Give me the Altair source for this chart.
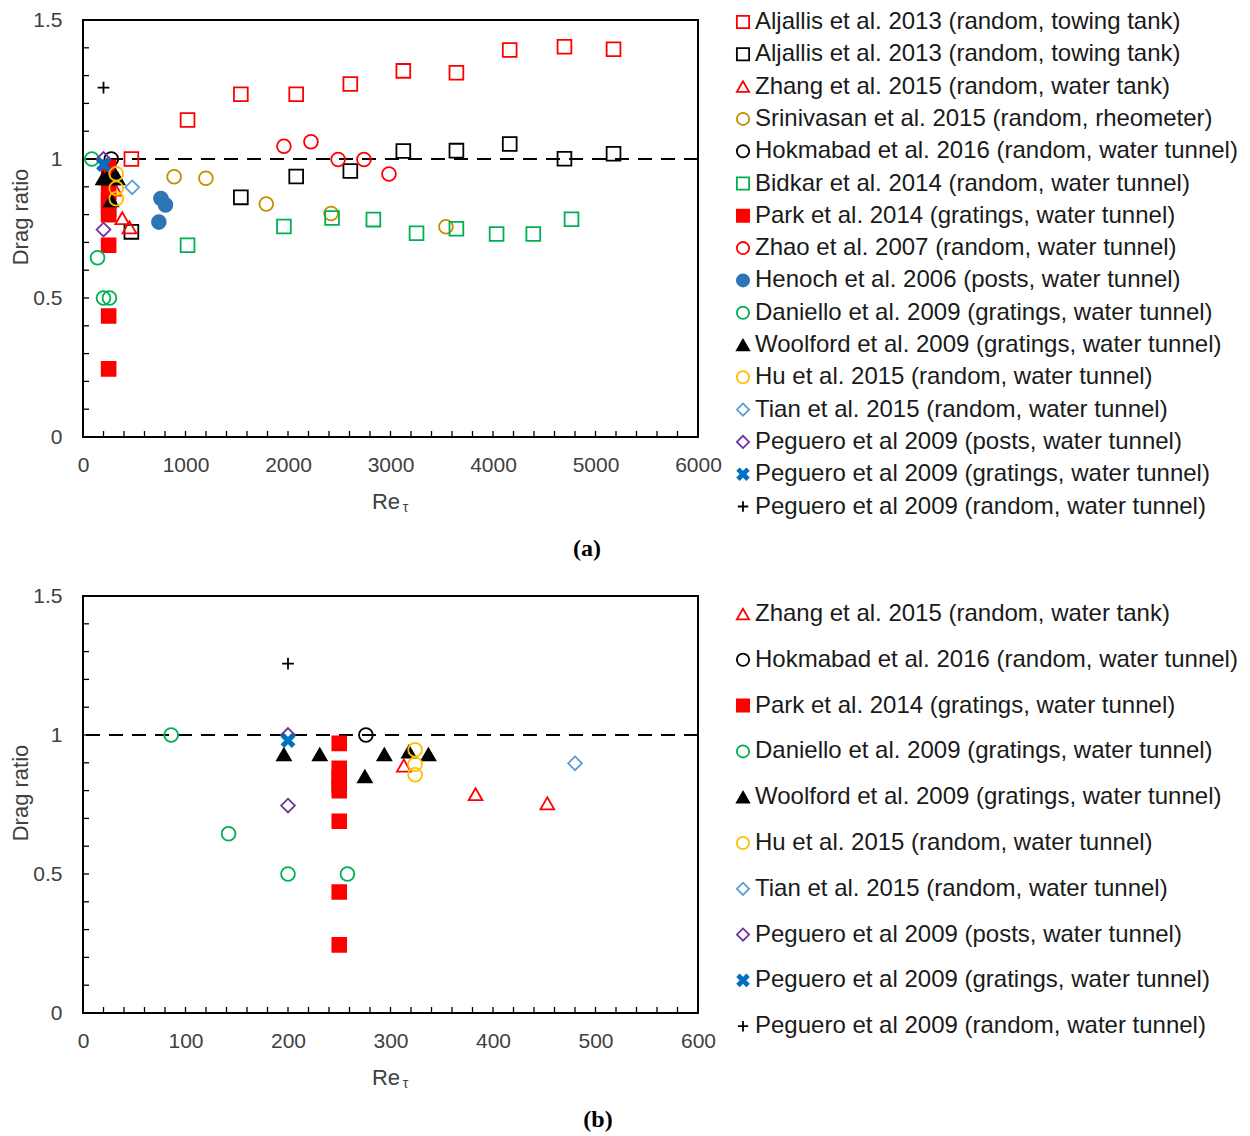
import altair as alt
import pandas as pd

# ---------------- data ----------------
ALJ = "Aljallis et al. 2013 (random, towing tank)"
series_labels = {
    "alj_r": ALJ,
    "alj_k": ALJ + " ",
    "zhang": "Zhang et al. 2015 (random, water tank)",
    "srini": "Srinivasan et al. 2015 (random, rheometer)",
    "hok": "Hokmabad et al. 2016 (random, water tunnel)",
    "bidkar": "Bidkar et al. 2014 (random, water tunnel)",
    "park": "Park et al. 2014 (gratings, water tunnel)",
    "zhao": "Zhao et al. 2007 (random, water tunnel)",
    "henoch": "Henoch et al. 2006 (posts, water tunnel)",
    "daniello": "Daniello et al. 2009 (gratings, water tunnel)",
    "woolford": "Woolford et al. 2009 (gratings, water tunnel)",
    "hu": "Hu et al. 2015 (random, water tunnel)",
    "tian": "Tian et al. 2015 (random, water tunnel)",
    "peg_posts": "Peguero et al 2009 (posts, water tunnel)",
    "peg_grat": "Peguero et al 2009 (gratings, water tunnel)",
    "peg_rand": "Peguero et al 2009 (random, water tunnel)",
}

alj_r_re = [472, 1020, 1540, 2080, 2608, 3125, 3643, 4163, 4697, 5176]
alj_r_dr = [1.0, 1.14, 1.233, 1.233, 1.27, 1.317, 1.31, 1.392, 1.404, 1.395]
alj_k_re = [472, 1540, 2080, 2608, 3125, 3643, 4163, 4697, 5176]
alj_k_dr = [0.738, 0.862, 0.937, 0.957, 1.029, 1.03, 1.054, 1.001, 1.019]
zhang_re = [313, 383, 453]
zhang_dr = [0.89, 0.787, 0.754]
srini_re = [889, 1199, 1788, 2420, 3541]
srini_dr = [0.936, 0.931, 0.838, 0.804, 0.756]
hok_re = [276]
hok_dr = [1.0]
bidkar_re = [1020, 1960, 2430, 2833, 3254, 3643, 4035, 4393, 4766]
bidkar_dr = [0.69, 0.757, 0.788, 0.782, 0.733, 0.749, 0.73, 0.73, 0.783]
park_re = [250, 250, 250, 250, 250, 250, 250, 250]
park_dr = [0.97, 0.88, 0.85, 0.82, 0.80, 0.69, 0.435, 0.245]
zhao_re = [1960, 2224, 2489, 2741, 2985]
zhao_dr = [1.046, 1.062, 0.998, 0.998, 0.946]
henoch_re = [760, 805, 740]
henoch_dr = [0.858, 0.835, 0.773]
daniello_re = [86, 142, 200, 258]
daniello_dr = [1.0, 0.645, 0.50, 0.50]
woolford_re = [196, 231, 275, 294, 318, 337]
woolford_dr = [0.93, 0.93, 0.851, 0.93, 0.94, 0.93]
hu_re = [324, 324, 324]
hu_dr = [0.947, 0.895, 0.857]
tian_re = [480]
tian_dr = [0.898]
peg_posts_re = [200, 200]
peg_posts_dr = [1.0, 0.746]
peg_grat_re = [200]
peg_grat_dr = [0.98]
peg_rand_re = [200]
peg_rand_dr = [1.257]

series_points = {
    "alj_r": (alj_r_re, alj_r_dr), "alj_k": (alj_k_re, alj_k_dr),
    "zhang": (zhang_re, zhang_dr), "srini": (srini_re, srini_dr),
    "hok": (hok_re, hok_dr), "bidkar": (bidkar_re, bidkar_dr),
    "park": (park_re, park_dr), "zhao": (zhao_re, zhao_dr),
    "henoch": (henoch_re, henoch_dr), "daniello": (daniello_re, daniello_dr),
    "woolford": (woolford_re, woolford_dr), "hu": (hu_re, hu_dr),
    "tian": (tian_re, tian_dr), "peg_posts": (peg_posts_re, peg_posts_dr),
    "peg_grat": (peg_grat_re, peg_grat_dr), "peg_rand": (peg_rand_re, peg_rand_dr),
}

keys_a = ["alj_r", "alj_k", "zhang", "srini", "hok", "bidkar", "park", "zhao",
          "henoch", "daniello", "woolford", "hu", "tian", "peg_posts", "peg_grat", "peg_rand"]
keys_b = ["zhang", "hok", "park", "daniello", "woolford", "hu", "tian",
          "peg_posts", "peg_grat", "peg_rand"]

# ---------------- styles ----------------
RED, BLACK, GOLD, GREEN = "#FF0000", "#000000", "#BF9000", "#00B050"
X_PATH = ("M-0.9,-0.55L-0.55,-0.9L0,-0.35L0.55,-0.9L0.9,-0.55L0.35,0L0.9,0.55"
          "L0.55,0.9L0,0.35L-0.55,0.9L-0.9,0.55L-0.35,0Z")
PLUS_PATH = "M-0.85,0L0.85,0M0,-0.85L0,0.85"
style = {  # stroke, fill, shape
    "alj_r": (RED, "transparent", "square"),
    "alj_k": (BLACK, "transparent", "square"),
    "zhang": (RED, "transparent", "triangle-up"),
    "srini": (GOLD, "transparent", "circle"),
    "hok": (BLACK, "transparent", "circle"),
    "bidkar": (GREEN, "transparent", "square"),
    "park": (RED, RED, "square"),
    "zhao": (RED, "transparent", "circle"),
    "henoch": ("#2E75B6", "#2E75B6", "circle"),
    "daniello": (GREEN, "transparent", "circle"),
    "woolford": (BLACK, BLACK, "triangle-up"),
    "hu": ("#FFC000", "transparent", "circle"),
    "tian": ("#5B9BD5", "transparent", "diamond"),
    "peg_posts": ("#7030A0", "transparent", "diamond"),
    "peg_grat": ("#0070C0", "#0070C0", X_PATH),
    "peg_rand": (BLACK, "transparent", PLUS_PATH),
}

FONT = "Liberation Sans"
W, H = 615, 417


def panel(keys, xmax, xvalues, xminor, legend_y, row_pad, caption, cap_x, cap_y):
    rows = []
    for k in keys:
        re_, dr_ = series_points[k]
        for r, d in zip(re_, dr_):
            rows.append({"Re": r, "DR": d, "series": series_labels[k]})
    df = pd.DataFrame(rows)
    dom = [series_labels[k] for k in keys]

    xenc = alt.X("Re:Q", scale=alt.Scale(domain=[0, xmax], nice=False),
                 axis=alt.Axis(values=xvalues, format="d", title="Re", ticks=False,
                               tickSize=0, domain=False, grid=False, labelFontSize=21,
                               labelPadding=17, labelFlush=False, titleFontSize=22,
                               titleFontWeight="normal", titlePadding=16, titleX=W / 2 - 5,
                               labelFont=FONT, titleFont=FONT, labelColor="#404040",
                               titleColor="#404040"))
    yscale = alt.Scale(domain=[0, 1.5], nice=False)
    yenc = alt.Y("DR:Q", scale=yscale,
                 axis=alt.Axis(values=[0, 0.5, 1, 1.5], format="~g", title="Drag ratio",
                               ticks=False, tickSize=0, domain=False, grid=False,
                               labelFontSize=21, labelPadding=21, labelFlush=False,
                               titleFontSize=22, titleFontWeight="normal", titlePadding=0,
                               titleY=H / 2 - 12, labelFont=FONT, titleFont=FONT,
                               labelColor="#404040", titleColor="#404040"))

    leg = alt.Legend(title=None, orient="none", legendX=648, legendY=legend_y,
                     direction="vertical", labelFont=FONT, labelFontSize=24,
                     labelColor="#1a1a1a", labelLimit=700, labelOffset=0,
                     rowPadding=row_pad, symbolSize=150, symbolStrokeWidth=1.8,
                     padding=0)

    pts = alt.Chart(df).mark_point(size=190, strokeWidth=1.8, opacity=1).encode(
        x=xenc, y=yenc,
        stroke=alt.Stroke("series:N", scale=alt.Scale(domain=dom, range=[style[k][0] for k in keys]), legend=leg),
        fill=alt.Fill("series:N", scale=alt.Scale(domain=dom, range=[style[k][1] for k in keys]), legend=leg),
        shape=alt.Shape("series:N", scale=alt.Scale(domain=dom, range=[style[k][2] for k in keys]), legend=leg),
    )

    ref = alt.Chart(pd.DataFrame({"DR": [1.0]})).mark_rule(
        color="black", strokeWidth=2, strokeDash=[14, 9]).encode(y=yenc)

    xt = alt.Chart(pd.DataFrame({"Re": xminor})).mark_rule(color="black", strokeWidth=1.3).encode(
        x=xenc, y=alt.value(H), y2=alt.value(H - 6))
    yt = alt.Chart(pd.DataFrame({"DR": [0.1, 0.2, 0.3, 0.4, 0.5, 0.6, 0.7, 0.8, 0.9,
                                        1.0, 1.1, 1.2, 1.3, 1.4]})).mark_rule(
        color="black", strokeWidth=1.3).encode(y=yenc, x=alt.value(0), x2=alt.value(6))

    tau = alt.Chart(pd.DataFrame({"t": ["\u03c4"]})).mark_text(
        font=FONT, fontSize=14, color="#404040", baseline="middle", align="center").encode(
        text="t:N", x=alt.value(W / 2 + 15), y=alt.value(H + 71))

    cap = alt.Chart(pd.DataFrame({"t": [caption]})).mark_text(
        font="Liberation Serif", fontSize=24, fontWeight="bold", color="black",
        baseline="middle", align="center").encode(
        text="t:N", x=alt.value(cap_x), y=alt.value(cap_y))

    return alt.layer(ref, xt, yt, pts, tau, cap).properties(width=W, height=H)


a = panel(keys_a, 6000, [0, 1000, 2000, 3000, 4000, 5000, 6000],
          list(range(200, 6000, 200)), -10, 8.3, "(a)", 504, 529)
b = panel(keys_b, 600, [0, 100, 200, 300, 400, 500, 600],
          list(range(20, 600, 20)), 6, 21.8, "(b)", 515, 524)

chart = alt.vconcat(a, b, spacing=22).resolve_scale(
    stroke="independent", fill="independent", shape="independent"
).properties(padding=0).configure_view(stroke="black", strokeWidth=2)

chart.save("out.html", embed_options={"renderer": "svg", "actions": False})
